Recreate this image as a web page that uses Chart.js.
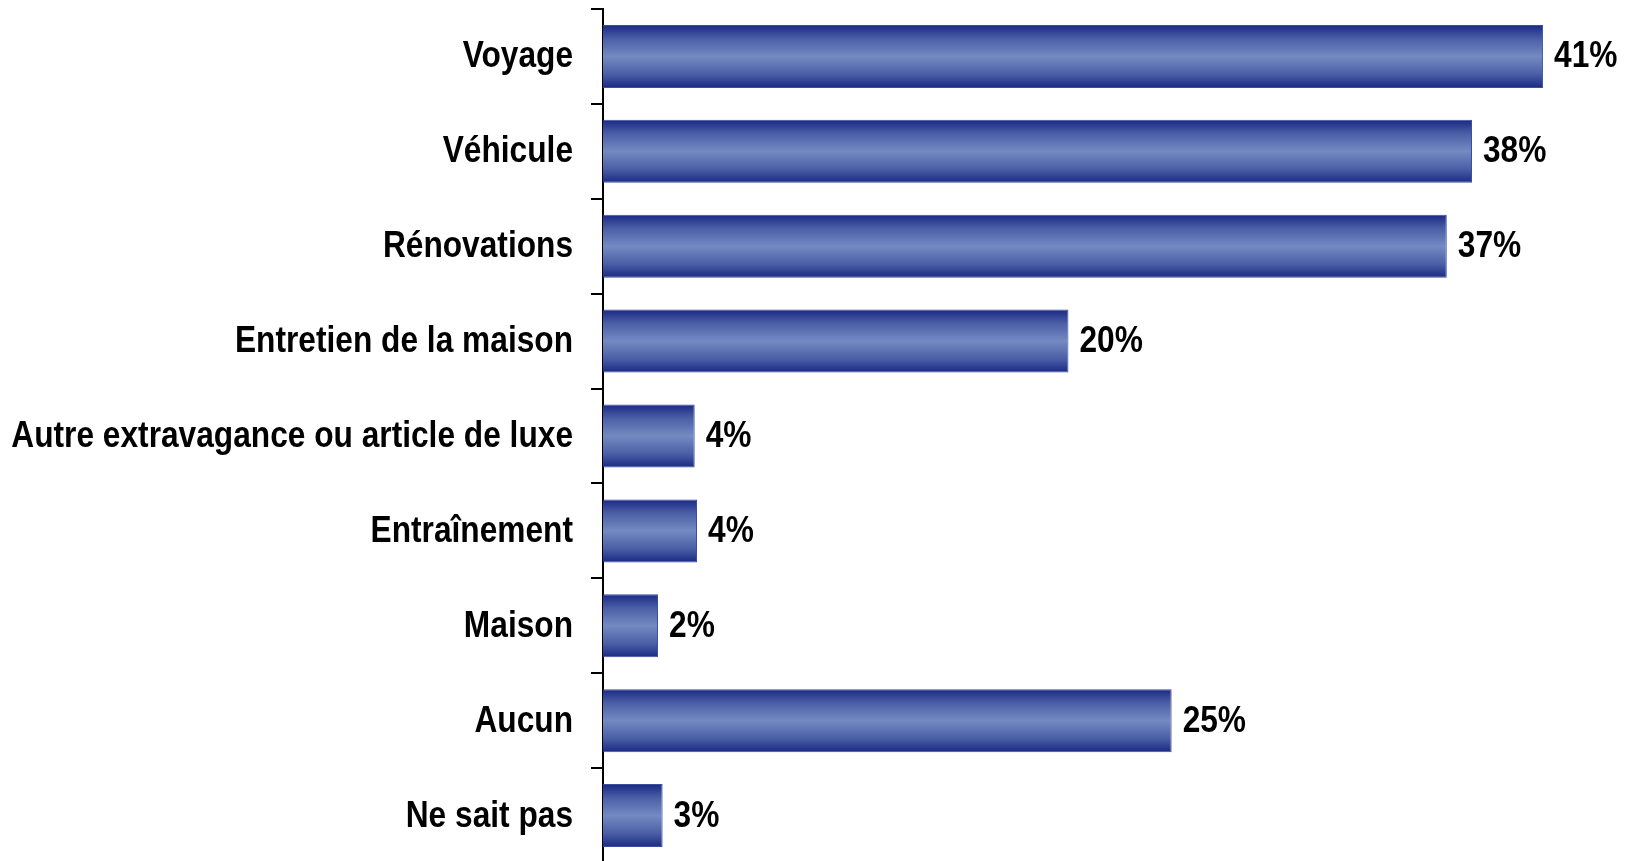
<!DOCTYPE html>
<html>
<head>
<meta charset="utf-8">
<script src="https://cdn.jsdelivr.net/npm/chart.js@4/dist/chart.umd.min.js"></script>
<style>
  html, body { margin: 0; padding: 0; background: #fff; overflow: hidden; }
  #wrap { width: 1627px; height: 863px; }
</style>
</head>
<body>
<div id="wrap"><canvas id="barChart"></canvas></div>
<script>
// chart data (bar lengths, labels as printed)
const categories = ["Voyage", "Véhicule", "Rénovations", "Entretien de la maison",
  "Autre extravagance ou article de luxe", "Entraînement", "Maison", "Aucun", "Ne sait pas"];
const values = [41, 37.9, 36.8, 20.3, 4.0, 4.1, 2.4, 24.8, 2.6];
const valueLabels = ["41%", "38%", "37%", "20%", "4%", "4%", "2%", "25%", "3%"];

// Arial Narrow look: Liberation Sans bold squeezed sideways
const labelFont = "bold 36px 'Liberation Sans', Arial, sans-serif";
const squeeze = 0.88;
const barPct = 0.664;

// vertical gradient for each bar, built from the y scale
function barColor(c) {
  const chart = c.chart;
  const yScale = chart.scales.y;
  if (!yScale || c.dataIndex == null) return '#5a6fb0';
  const center = yScale.getPixelForValue(c.dataIndex);
  const half = (yScale.height / categories.length) * barPct / 2;
  if (!Number.isFinite(center) || !Number.isFinite(half) || half <= 0) return '#5a6fb0';
  const g = chart.ctx.createLinearGradient(0, center - half, 0, center + half);
  g.addColorStop(0, '#1a2984');
  g.addColorStop(0.22, '#4b5fa6');
  g.addColorStop(0.5, '#748ac2');
  g.addColorStop(0.78, '#4b5fa6');
  g.addColorStop(1, '#1a2984');
  return g;
}

function squeezedText(ctx, text, x, y, align) {
  ctx.save();
  ctx.translate(x, y);
  ctx.scale(squeeze, 1);
  ctx.textAlign = align;
  ctx.fillText(text, 0, 0);
  ctx.restore();
}

// category names and the percentages at the end of each bar
const textPlugin = {
  id: 'textLabels',
  afterDatasetsDraw(chart) {
    const ctx = chart.ctx;
    const yScale = chart.scales.y;
    const meta = chart.getDatasetMeta(0);
    ctx.save();
    ctx.font = labelFont;
    ctx.fillStyle = '#000';
    ctx.textBaseline = 'alphabetic';
    categories.forEach((name, i) => {
      const y = yScale.getPixelForValue(i);
      squeezedText(ctx, name, yScale.right - 30, y + 11, 'right');
    });
    meta.data.forEach((bar, i) => {
      squeezedText(ctx, valueLabels[i], bar.x + 11, bar.y + 11, 'left');
    });
    ctx.restore();
  }
};

const ctx = document.getElementById("barChart").getContext('2d');
new Chart(ctx, {
  type: 'bar',
  data: {
    labels: categories,
    datasets: [{
      data: values,
      backgroundColor: barColor,
      borderColor: '#3b4fa0',
      borderWidth: 1,
      borderSkipped: 'start',
      categoryPercentage: 1,
      barPercentage: barPct
    }]
  },
  options: {
    indexAxis: 'y',
    responsive: true,
    maintainAspectRatio: false,
    animation: false,
    layout: { padding: { top: 9, right: 0, bottom: 0, left: 0 } },
    plugins: {
      legend: { display: false },
      tooltip: { enabled: false }
    },
    scales: {
      x: {
        display: false,
        min: 0,
        max: 44.66
      },
      y: {
        offset: true,
        afterFit(scale) {
          scale.width = 603;
          scale.paddingTop = 0;
          scale.paddingBottom = 0;
        },
        border: { display: true, color: '#000', width: 2 },
        grid: {
          offset: true,
          drawOnChartArea: false,
          drawTicks: true,
          tickLength: 12,
          color: '#000',
          lineWidth: 2
        },
        ticks: { display: false }
      }
    }
  },
  plugins: [textPlugin]
});
</script>
</body>
</html>
